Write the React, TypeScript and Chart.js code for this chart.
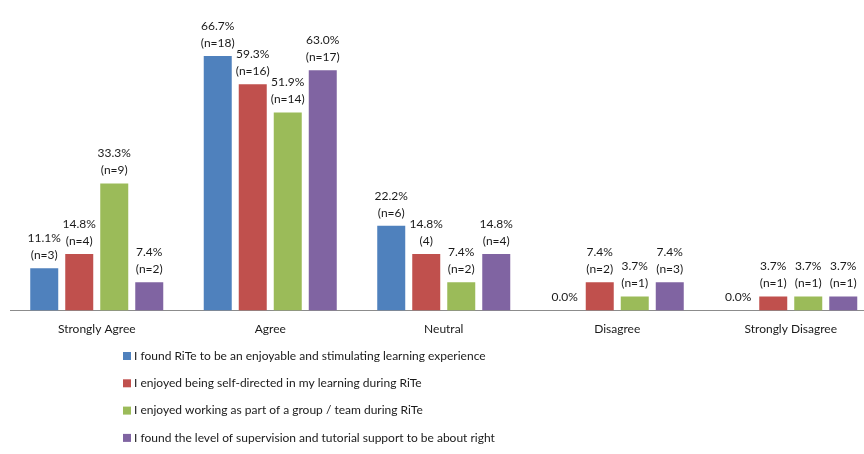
import React, { useEffect, useRef } from "react";
import { Chart, registerables } from "chart.js";

Chart.register(...registerables);

const categories = ["Strongly Agree", "Agree", "Neutral", "Disagree", "Strongly Disagree"];

const seriesNames = [
  "I found RiTe to be an enjoyable and stimulating learning experience",
  "I enjoyed being self-directed in my learning during RiTe",
  "I enjoyed working as part of a group / team during RiTe",
  "I found the level of supervision and tutorial support to be about right",
];

const seriesColors = ["#4F81BD", "#C0504D", "#9BBB59", "#8064A2"];

const enjoyableValues = [11.1, 66.7, 22.2, 0.0, 0.0];
const selfDirectedValues = [14.8, 59.3, 14.8, 7.4, 3.7];
const groupWorkValues = [33.3, 51.9, 7.4, 3.7, 3.7];
const supervisionValues = [7.4, 63.0, 14.8, 7.4, 3.7];

const enjoyableCounts = ["(n=3)", "(n=18)", "(n=6)", "", ""];
const selfDirectedCounts = ["(n=4)", "(n=16)", "(4)", "(n=2)", "(n=1)"];
const groupWorkCounts = ["(n=9)", "(n=14)", "(n=2)", "(n=1)", "(n=1)"];
const supervisionCounts = ["(n=2)", "(n=17)", "(n=4)", "(n=3)", "(n=1)"];

const allValues = [enjoyableValues, selfDirectedValues, groupWorkValues, supervisionValues];
const allCounts = [enjoyableCounts, selfDirectedCounts, groupWorkCounts, supervisionCounts];

const FONT = "Lato, 'Liberation Sans', sans-serif";
const TEXT_COLOR = "#1a1a1a";

const barLabelPlugin = {
  id: "barLabels",
  afterDatasetsDraw(chart: any) {
    const ctx = chart.ctx;
    ctx.save();
    ctx.font = `12px ${FONT}`;
    ctx.fillStyle = TEXT_COLOR;
    ctx.textAlign = "center";
    ctx.textBaseline = "middle";
    chart.data.datasets.forEach((ds: any, di: number) => {
      const meta = chart.getDatasetMeta(di);
      meta.data.forEach((el: any, i: number) => {
        const v = ds.data[i] as number;
        const lines = [v.toFixed(1) + "%", allCounts[di][i]].filter((s) => s);
        const n = lines.length;
        lines.forEach((line, li) => {
          const y = el.y - 13 - (n - 1 - li) * 17;
          ctx.fillText(line, el.x, y);
        });
      });
    });
    ctx.restore();
  },
};

const legendPlugin = {
  id: "columnLegend",
  afterDraw(chart: any) {
    const ctx = chart.ctx;
    const base = chart.chartArea.bottom;
    ctx.save();
    ctx.font = `12px ${FONT}`;
    ctx.textAlign = "left";
    ctx.textBaseline = "middle";
    chart.data.datasets.forEach((ds: any, di: number) => {
      const y = base + 45.5 + di * 27.3;
      ctx.fillStyle = ds.backgroundColor;
      ctx.fillRect(123, y - 4, 8, 8);
      ctx.fillStyle = TEXT_COLOR;
      ctx.fillText(ds.label, 134, y);
    });
    ctx.restore();
  },
};

export default function App() {
  const canvasRef = useRef<HTMLCanvasElement | null>(null);

  useEffect(() => {
    if (!canvasRef.current) return;
    const chart = new Chart(canvasRef.current, {
      type: "bar",
      data: {
        labels: categories,
        datasets: seriesNames.map((name, i) => ({
          label: name,
          data: allValues[i],
          backgroundColor: seriesColors[i],
          borderWidth: 0,
          categoryPercentage: 0.807,
          barPercentage: 0.8,
        })),
      },
      options: {
        animation: false,
        responsive: false,
        devicePixelRatio: 1,
        layout: { padding: { left: 10, right: 2.5, top: 5.3, bottom: 109.5 } },
        plugins: {
          legend: { display: false },
          tooltip: { enabled: false },
        },
        scales: {
          x: {
            type: "category",
            offset: true,
            grid: { display: false, drawTicks: false },
            border: { display: true, color: "#8c8c8c", width: 1 },
            ticks: {
              color: TEXT_COLOR,
              font: { family: FONT, size: 12 },
              padding: 11,
              maxRotation: 0,
              autoSkip: false,
            },
            afterFit: (scale: any) => {
              scale.height = 34;
            },
          },
          y: {
            display: false,
            min: 0,
            max: 80,
          },
        },
      },
      plugins: [barLabelPlugin, legendPlugin],
    });
    return () => chart.destroy();
  }, []);

  return (
    <div
      style={{
        position: "fixed",
        left: 0,
        top: 0,
        width: 864,
        height: 454,
        overflow: "hidden",
        background: "#ffffff",
      }}
    >
      <canvas ref={canvasRef} width={880} height={454} style={{ display: "block" }} />
    </div>
  );
}
